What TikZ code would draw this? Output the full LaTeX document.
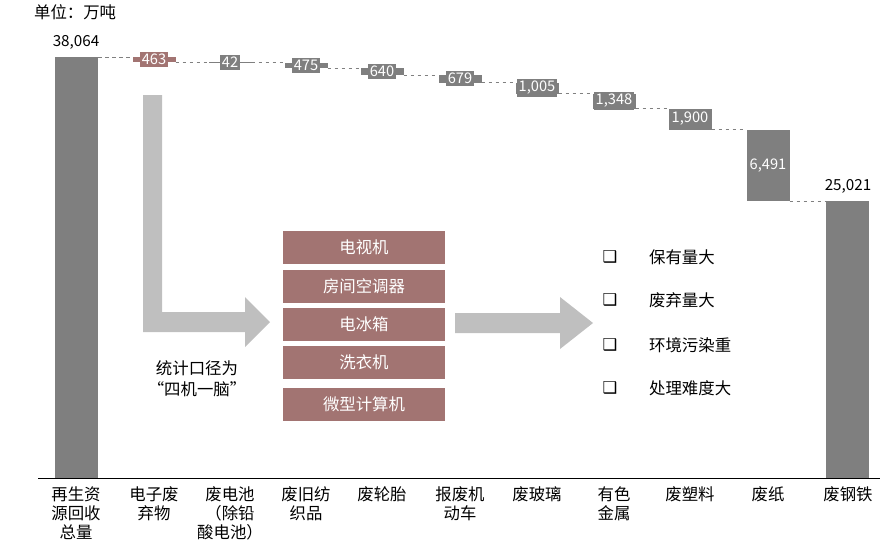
\documentclass[tikz,border=0pt]{standalone}
\usepackage{fontspec}
\setmainfont{Noto Sans CJK SC}
\newfontfamily\symfont{DejaVu Sans}
\usetikzlibrary{positioning}
\definecolor{bargray}{HTML}{7F7F7F}
\definecolor{boxred}{HTML}{A27472}
\definecolor{arrowgray}{HTML}{BFBFBF}
\begin{document}
\begin{tikzpicture}[x=0.03cm, y=-0.03cm,
    bar/.style={fill=bargray, draw=none},
    vallabel/.style={fill=bargray, text=white, inner sep=1.8pt, font=\fontsize{12.5}{14}\selectfont},
    catlabel/.style={anchor=north, align=center, font=\fontsize{14}{16}\selectfont},
    itembox/.style={fill=boxred, text=white, minimum width=162*0.03cm, minimum height=33*0.03cm, font=\fontsize{14}{16}\selectfont},
    bigarrow/.style={fill=arrowgray, draw=none},
    link/.style={dashed, draw=gray, thin}
]
\useasboundingbox (0,0) rectangle (880,555);

% title and axis
\node[anchor=west, font=\fontsize{14}{16}\selectfont] (unit) at (30,12) {单位：万吨};
\draw[black] (38,478) -- (880,478);

% total bars
\fill[bar] (55,57) rectangle (98,478);
\node[font=\fontsize{13}{15}\selectfont] (total) at (76,42) {38,064};
\fill[bar] (826,201) rectangle (869,478);
\node[font=\fontsize{13}{15}\selectfont] (steel) at (848,186) {25,021};
\coordinate (prev) at (98,57);

% floating bars
\foreach \i/\x/\t/\b/\v/\c in {1/154/57/62.1/463/boxred, 2/230/62.1/62.6/42/bargray,
    3/306/62.6/67.9/475/bargray, 4/382/67.9/75/640/bargray, 5/460/75/82.5/679/bargray,
    6/537/82.5/93.6/{1,005}/bargray, 7/614/93.6/108.5/{1,348}/bargray,
    8/690/108.5/129.5/{1,900}/bargray, 9/768/129.5/201.3/{6,491}/bargray}{
  \fill[\c] (\x-21.5,\t) rectangle (\x+21.5,\b);
  \node[vallabel, fill=\c] (v\i) at (\x,{(\t+\b)/2}) {\v};
  \coordinate (l\i) at (\x-21.5,\t);
  \draw[link] (prev) -- (l\i);
  \coordinate (prev) at (\x+21.5,\b);
}
\coordinate (last) at (826,201.3);
\draw[link] (prev) -- (last);

% categories
\foreach \x/\t in {76/{再生资\\源回收\\总量}, 154/{电子废\\弃物}, 230/{废电池\\（除铅\\酸电池）},
    306/{废旧纺\\织品}, 382/废轮胎, 460/{报废机\\动车}, 537/废玻璃, 614/{有色\\金属},
    690/废塑料, 768/废纸, 848/废钢铁}
  \node[catlabel] at (\x,483) {\t};

% arrows
\fill[bigarrow] (143,95) -- (162,95) -- (162,312) -- (245,312) -- (245,297) -- (270,322)
  -- (245,347) -- (245,332) -- (143,332) -- cycle;
\fill[bigarrow] (455,313) -- (560,313) -- (560,297) -- (593,323) -- (560,349) -- (560,333)
  -- (455,333) -- cycle;

% four appliances and one computer
\node[itembox] (tv) at (364,247) {电视机};
\node[itembox] (ac) at (364,286) {房间空调器};
\node[itembox] (fridge) at (364,324) {电冰箱};
\node[itembox] (washer) at (364,362) {洗衣机};
\node[itembox] (pc) at (364,404) {微型计算机};
\node[align=center, font=\fontsize{14}{18}\selectfont] (scope) at (197,379) {统计口径为\\“四机一脑”};

% bullets
\foreach \y/\t in {257/保有量大, 300/废弃量大, 345/环境污染重, 388/处理难度大}{
  \node[font=\symfont\bfseries\fontsize{14}{16}\selectfont] at (610,\y) {❑};
  \node[anchor=west, font=\fontsize{14}{16}\selectfont] at (645,\y) {\t};
}
\end{tikzpicture}
\end{document}
